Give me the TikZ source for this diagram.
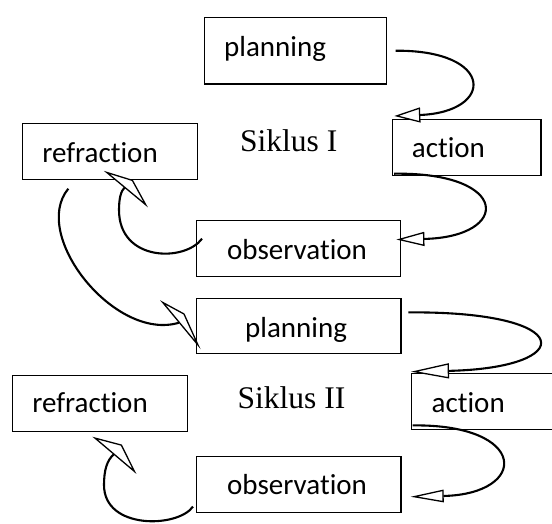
\documentclass[tikz,border=0pt]{standalone}
\usepackage{fontspec}
\setmainfont{Carlito}[Ligatures=CommonOff]
\newfontfamily\siklusfont{Liberation Serif}
\usetikzlibrary{arrows.meta}
\begin{document}
\begin{tikzpicture}[x=1pt,y=-1pt,
  box/.style={draw, line width=1.4pt, rectangle, anchor=north west, inner ysep=0pt,
    text depth=0pt, align=left, font=\fontsize{29}{34}\selectfont},
  cyc/.style={anchor=base west, inner sep=0pt, font=\siklusfont\fontsize{31.5}{36}\selectfont},
  conn/.style={line width=2.1pt},
  kitehead/.style={draw, fill=white, line width=1.3pt, line join=miter},
  tri/.style n args={2}{-{Triangle[fill=white,length=#1pt,width=#2pt,line width=1.3pt]}}
]
\clip (0,0) rectangle (552,523);
\fill[white] (0,0) rectangle (552,523);

% boxes
\node[box, minimum width=182pt, minimum height=66.6pt, inner xsep=19.5pt, text width=143pt, text height=12pt] (P1) at (204,16.7) {planning};
\node[box, minimum width=148.6pt, minimum height=56pt, inner xsep=19.5pt, text width=109.6pt, text height=19.4pt] (A1) at (391.7,119) {action};
\node[box, minimum width=174.8pt, minimum height=56.3pt, inner xsep=20pt, text width=134.8pt, text height=21.7pt] (R1) at (21.7,122.7) {refraction};
\node[box, minimum width=204pt, minimum height=55.7pt, inner xsep=30.5pt, text width=143pt, text height=20.9pt] (O1) at (196,220) {observation};
\node[box, minimum width=204.3pt, minimum height=55.2pt, inner xsep=48.5pt, text width=107.3pt, text height=23.2pt] (P2) at (196,297.5) {planning};
\node[box, minimum width=149pt, minimum height=56pt, inner xsep=20pt, text width=109pt, text height=21.4pt] (A2) at (411,373) {action};
\node[box, minimum width=175pt, minimum height=56pt, inner xsep=20pt, text width=135pt, text height=17.4pt] (R2) at (11.7,375) {refraction};
\node[box, minimum width=204.3pt, minimum height=55.7pt, inner xsep=30.5pt, text width=143.3pt, text height=20.3pt] (O2) at (196,456) {observation};

\node[cyc] (S1) at (240,151.7) {Siklus I};
\node[cyc] (S2) at (237.5,408.3) {Siklus II};

% right-hand connectors with open triangle heads
\draw[conn, tri={26}{15}] ([shift={(8.3,0)}]P1.east) .. controls (495,50) and (495,112) .. ([shift={(2.6,-3)}]A1.north west);
\draw[conn, tri={28}{14}] ([shift={(2.5,-2.7)}]A1.south west) .. controls (511,172) and (511,237) .. ([shift={(-5,-9)}]O1.east);
\draw[conn, tri={38}{15}] ([shift={(6.7,-13.4)}]P2.east) .. controls (578,311) and (578,368) .. ([shift={(0,-1.3)}]A2.north west);
\draw[conn, tri={33}{12.5}] ([shift={(1.7,-5)}]A2.south west) .. controls (529,424) and (529,494) .. ([shift={(9,12.2)}]O2.east);

% kite heads tips
\coordinate (T1) at ([shift={(-3.1,-8)}]R1.south);
\coordinate (T2) at ([shift={(-33.3,-23.4)}]P2.west);
\coordinate (T3) at ([shift={(-4.9,5.7)}]R2.south);

% observation I -> refraction I
\draw[conn] ([shift={(6,-9.85)}]O1.west) .. controls (185,262) and (119,262) .. (119,210)
  .. controls (119,198) and (121,191) .. ([shift={(18,15)}]T1);
\draw[kitehead] (T1) -- ++(25.7,8) -- ++(13.3,24.3) -- cycle;

% refraction I -> planning II
\draw[conn] ([shift={(46.6,8.3)}]R1.south west) .. controls (30,235) and (115,342) .. ([shift={(16.3,20.3)}]T2);
\draw[kitehead] (T2) -- ++(21.3,11.6) -- ++(14,31) -- cycle;

% observation II -> refraction II
\draw[conn] ([shift={(-3,22)}]O2.west) .. controls (178,528) and (104,530) .. (104,485)
  .. controls (104,470) and (107,460) .. ([shift={(19,16.1)}]T3);
\draw[kitehead] (T3) -- ++(26.4,7) -- ++(13,26.3) -- cycle;
\end{tikzpicture}
\end{document}
